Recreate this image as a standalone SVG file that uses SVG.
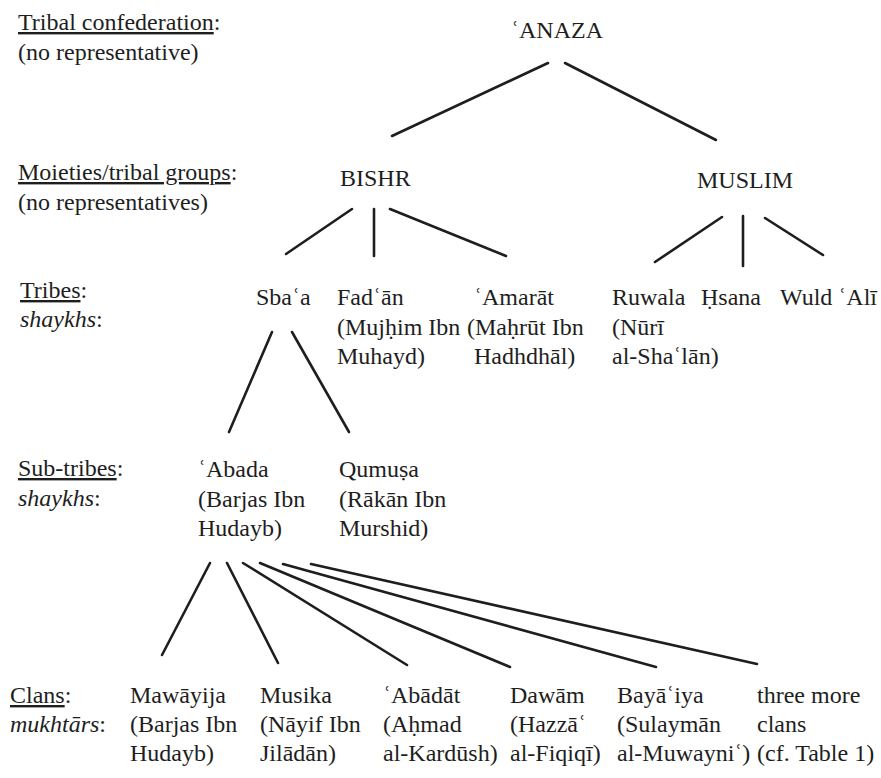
<svg xmlns="http://www.w3.org/2000/svg" width="881" height="778" viewBox="0 0 881 778">
<style>
text{font-family:'Liberation Serif','Times New Roman',serif;font-size:24px;fill:#1e1e1e}
.u{text-decoration:underline}
.i{font-style:italic}
.c line{stroke:#1e1e1e;stroke-width:2.6;stroke-linecap:round}
</style>
<rect width="881" height="778" fill="#fff"/>
<g id="legend">
<text x="18" y="30"><tspan class="u">Tribal confederation</tspan>:</text>
<text x="18" y="60">(no representative)</text>
<text x="18" y="180"><tspan class="u">Moieties/tribal groups</tspan>:</text>
<text x="18" y="210">(no representatives)</text>
<text x="20" y="298"><tspan class="u">Tribes</tspan>:</text>
<text x="20" y="327"><tspan class="i">shaykhs</tspan>:</text>
<text x="18" y="476"><tspan class="u">Sub-tribes</tspan>:</text>
<text x="18" y="506"><tspan class="i">shaykhs</tspan>:</text>
<text x="10" y="703"><tspan class="u">Clans</tspan>:</text>
<text x="10" y="732"><tspan class="i">mukhtārs</tspan>:</text>
</g>
<g id="anaza"><text x="511" y="38">ʿANAZA</text></g>
<g id="bishr"><text x="340" y="186">BISHR</text></g>
<g id="muslim"><text x="697" y="188">MUSLIM</text></g>
<g id="sbaa"><text x="256" y="305">Sbaʿa</text></g>
<g id="fadan"><text x="337" y="305">Fadʿān</text><text x="337" y="335">(Mujḥim Ibn</text><text x="337" y="364">Muhayd)</text></g>
<g id="amarat"><text x="474" y="305">ʿAmarāt</text><text x="467" y="335">(Maḥrūt Ibn</text><text x="474" y="364">Hadhdhāl)</text></g>
<g id="ruwala"><text x="612" y="305">Ruwala</text><text x="612" y="335">(Nūrī</text><text x="612" y="364">al-Shaʿlān)</text></g>
<g id="hsana"><text x="701" y="305">Ḥsana</text></g>
<g id="wuld"><text x="780" y="305">Wuld ʿAlī</text></g>
<g id="abada"><text x="198" y="477">ʿAbada</text><text x="198" y="507">(Barjas Ibn</text><text x="198" y="536">Hudayb)</text></g>
<g id="qumusa"><text x="339" y="477">Qumuṣa</text><text x="339" y="507">(Rākān Ibn</text><text x="339" y="536">Murshid)</text></g>
<g id="mawayija"><text x="130" y="703">Mawāyija</text><text x="130" y="732">(Barjas Ibn</text><text x="130" y="761">Hudayb)</text></g>
<g id="musika"><text x="260" y="703">Musika</text><text x="260" y="732">(Nāyif Ibn</text><text x="260" y="761">Jilādān)</text></g>
<g id="abadat"><text x="383" y="703">ʿAbādāt</text><text x="383" y="732">(Aḥmad</text><text x="383" y="761">al-Kardūsh)</text></g>
<g id="dawam"><text x="510" y="703">Dawām</text><text x="510" y="732">(Hazzāʿ</text><text x="510" y="761">al-Fiqiqī)</text></g>
<g id="bayaiya"><text x="617" y="703">Bayāʿiya</text><text x="617" y="732">(Sulaymān</text><text x="617" y="761">al-Muwayniʿ)</text></g>
<g id="more"><text x="757" y="703">three more</text><text x="757" y="732">clans</text><text x="757" y="761">(cf. Table 1)</text></g>
<g class="c" id="connectors">
<line x1="548" y1="63" x2="392" y2="136"/>
<line x1="565" y1="63" x2="716" y2="140"/>
<line x1="352" y1="209" x2="286" y2="254"/>
<line x1="374" y1="209" x2="374" y2="256"/>
<line x1="390" y1="209" x2="506" y2="256"/>
<line x1="722" y1="217" x2="655" y2="262"/>
<line x1="743" y1="216" x2="743" y2="266"/>
<line x1="765" y1="218" x2="823" y2="255"/>
<line x1="272" y1="332" x2="229" y2="432"/>
<line x1="292" y1="332" x2="349" y2="432"/>
<line x1="210" y1="563" x2="162" y2="655"/>
<line x1="227" y1="563" x2="278" y2="663"/>
<line x1="243" y1="563" x2="407" y2="665"/>
<line x1="260" y1="563" x2="510" y2="667"/>
<line x1="283" y1="564" x2="656" y2="667"/>
<line x1="311" y1="564" x2="757" y2="664"/>
</g>
</svg>
